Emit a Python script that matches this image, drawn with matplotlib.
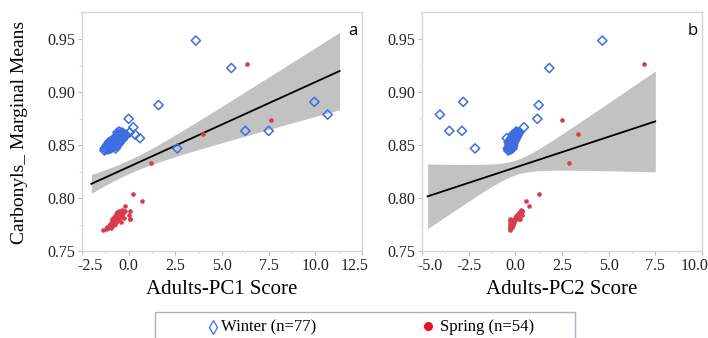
import numpy as np
import matplotlib.pyplot as plt
from matplotlib.lines import Line2D
from matplotlib.patches import Rectangle
from matplotlib.ticker import MultipleLocator
from matplotlib.transforms import ScaledTranslation

# -------------------------------
# Data
# -------------------------------
# Winter: carbonyl marginal means with their PC1 / PC2 scores
winter_y = [0.949, 0.923, 0.891, 0.888, 0.879, 0.875, 0.8636, 0.8636, 0.847, 0.867, 0.862, 0.860, 0.8567,
            0.845, 0.846, 0.846, 0.847, 0.847, 0.847, 0.848, 0.848, 0.848, 0.849, 0.849, 0.849,
            0.850, 0.850, 0.850, 0.850, 0.851, 0.851, 0.851, 0.851, 0.852, 0.852, 0.852, 0.852,
            0.853, 0.853, 0.853, 0.853, 0.854, 0.854, 0.854, 0.854, 0.855, 0.855, 0.855, 0.855,
            0.856, 0.856, 0.856, 0.856, 0.857, 0.857, 0.857, 0.857, 0.858, 0.858, 0.858, 0.858,
            0.859, 0.859, 0.859, 0.859, 0.860, 0.860, 0.860, 0.861, 0.861, 0.862, 0.862, 0.863,
            0.856, 0.853, 0.849, 0.847]
winter_pc1 = [3.6, 5.5, 9.95, 1.6, 10.66, 0.0, 6.25, 7.5, 2.6, 0.25, 0.05, 0.35, 0.6,
              -1.30, -1.22, -1.10, -1.28, -1.05, -0.95, -1.15, -1.00, -0.88, -1.20, -0.98, -0.80,
              -1.08, -0.92, -0.75, -0.60, -1.12, -0.85, -0.70, -0.95, -1.00, -0.78, -0.62, -0.50,
              -0.90, -0.72, -0.58, -0.82, -0.95, -0.66, -0.48, -0.75, -0.85, -0.60, -0.42, -0.70,
              -0.78, -0.55, -0.38, -0.65, -0.72, -0.50, -0.30, -0.60, -0.68, -0.45, -0.25, -0.55,
              -0.62, -0.40, -0.20, -0.50, -0.55, -0.35, -0.15, -0.45, -0.28, -0.60, -0.35, -0.50,
              -0.30, -1.05, -0.65, -0.70]
winter_pc2 = [4.66, 1.82, -2.79, 1.25, -4.04, 1.18, -3.54, -2.86, -2.16, 0.46, 0.21, -0.14, -0.46,
              -0.38, -0.30, -0.25, -0.40, -0.33, -0.22, -0.28, -0.35, -0.20, -0.32, -0.26, -0.18,
              -0.30, -0.22, -0.15, -0.24, -0.27, -0.20, -0.12, -0.31, -0.25, -0.18, -0.10, -0.21,
              -0.22, -0.14, -0.08, -0.27, -0.19, -0.12, -0.05, -0.23, -0.16, -0.09, -0.02, -0.20,
              -0.13, -0.06, 0.01, -0.17, -0.10, -0.03, 0.04, -0.14, -0.08, 0.00, 0.07, -0.12,
              -0.05, 0.03, 0.10, -0.09, -0.02, 0.06, 0.12, 0.00, 0.09, 0.02, 0.14, 0.05,
              -0.25, -0.36, -0.12, -0.15]

# Spring
spring_y = [0.927, 0.874, 0.8605, 0.833, 0.8037, 0.7976, 0.793, 0.770, 0.788, 0.780,
            0.771, 0.772, 0.772, 0.773, 0.773, 0.774, 0.774, 0.775, 0.775, 0.776, 0.776, 0.776,
            0.777, 0.777, 0.778, 0.778, 0.778, 0.779, 0.779, 0.780, 0.780, 0.780, 0.781, 0.781,
            0.782, 0.782, 0.782, 0.783, 0.783, 0.784, 0.784, 0.785, 0.785, 0.786, 0.786,
            0.787, 0.787, 0.788, 0.788, 0.789, 0.784, 0.780, 0.777, 0.781]
spring_pc1 = [6.35, 7.6, 4.0, 1.2, 0.25, 0.7, -0.2, -1.4, 0.07, 0.07,
              -1.20, -1.10, -0.95, -1.15, -1.00, -1.05, -0.88, -0.98, -0.80, -0.92, -0.75, -1.02,
              -0.85, -0.70, -0.90, -0.78, -0.60, -0.82, -0.65, -0.75, -0.55, -0.88, -0.70, -0.50,
              -0.80, -0.62, -0.40, -0.70, -0.52, -0.60, -0.35, -0.68, -0.45, -0.55, -0.30,
              -0.42, -0.62, -0.20, -0.50, -0.35, 0.00, 0.05, -0.40, -0.25]
spring_pc2 = [6.89, 2.5, 3.36, 2.875, 1.25, 0.57, 0.75, -0.3, 0.35, 0.2,
              -0.28, -0.30, -0.22, -0.25, -0.20, -0.27, -0.18, -0.15, -0.24, -0.12, -0.20, -0.30,
              -0.10, -0.16, -0.28, -0.06, -0.12, -0.03, -0.08, 0.00, -0.05, -0.30, 0.03, -0.02,
              0.05, 0.08, 0.02, 0.10, 0.06, 0.14, 0.10, 0.18, 0.15, 0.22, 0.20,
              0.26, 0.30, 0.33, 0.38, 0.30, 0.35, 0.25, -0.05, 0.12]

# extent of the fitted line in each panel
fit_span_pc1 = [-2.0, 11.3]
fit_span_pc2 = [-4.7, 7.5]

xticks_pc1 = [-2.5, 0.0, 2.5, 5.0, 7.5, 10.0, 12.5]
xticks_pc2 = [-5.0, -2.5, 0.0, 2.5, 5.0, 7.5, 10.0]
yticks = [0.75, 0.80, 0.85, 0.90, 0.95]

T_CRIT = 1.9785  # t(0.975, df=129)

BLUE = "#3c6ee0"
RED = "#d93a4e"
plt.rcParams['font.family'] = ['Liberation Serif', 'DejaVu Serif']

fig = plt.figure(figsize=(7.08, 3.38), dpi=100)
W, H = 708, 338


def px_axes(left, top, right, bottom):
    return fig.add_axes([left / W, 1 - bottom / H, (right - left) / W, (bottom - top) / H])


def draw_panel(ax, xw, xs, span, xticks, letter):
    x_all = np.array(xw + xs)
    y_all = np.array(winter_y + spring_y)
    n = len(x_all)
    slope, intercept = np.polyfit(x_all, y_all, 1)
    resid = y_all - (slope * x_all + intercept)
    s = np.sqrt(np.sum(resid ** 2) / (n - 2))
    xbar = x_all.mean()
    sxx = np.sum((x_all - xbar) ** 2)
    xf = np.linspace(span[0], span[1], 200)
    yf = slope * xf + intercept
    half = T_CRIT * s * np.sqrt(1 / n + (xf - xbar) ** 2 / sxx)

    ax.fill_between(xf, yf - half, yf + half, color="#c2c2c2", lw=0, zorder=1)
    ax.plot(xf, yf, color="black", lw=1.3, zorder=2)
    ax.scatter(xw, winter_y, marker="D", s=22, facecolors="none", edgecolors=BLUE, linewidths=1.1, zorder=3)
    ax.scatter(xs, spring_y, marker="o", s=11, color=RED, lw=0, zorder=4)

    ax.set_xlim(xticks[0], xticks[-1])
    ax.set_ylim(0.75, 0.976)
    ax.set_xticks(xticks)
    ax.set_xticklabels([f"{v:.1f}" for v in xticks])
    ax.set_yticks(yticks)
    ax.set_yticklabels([f"{v:.2f}" for v in yticks])
    ax.yaxis.set_minor_locator(MultipleLocator(0.025))
    ax.xaxis.set_minor_locator(MultipleLocator(1.25))
    for sp in ax.spines.values():
        sp.set_color("#d4d4d4")
        sp.set_linewidth(1.0)
    ax.tick_params(which="major", length=3, color="#bbbbbb", labelsize=11.5, pad=2, labelcolor="#222222")
    ax.tick_params(which="minor", length=2, color="#dddddd")

    # end labels sit inside the frame, as in the original
    ticks = ax.xaxis.get_major_ticks()
    lab0 = ticks[0].label1
    lab0.set_transform(lab0.get_transform() + ScaledTranslation(8 / 100, 0, fig.dpi_scale_trans))
    lab1 = ticks[-1].label1
    lab1.set_transform(lab1.get_transform() + ScaledTranslation(-7 / 100, 0, fig.dpi_scale_trans))

    ax.text(0.985, 0.955, letter, transform=ax.transAxes, ha="right", va="top",
            fontsize=12, family="Open Sans", color="black")


ax1 = px_axes(82, 12, 362, 251)
draw_panel(ax1, winter_pc1, spring_pc1, fit_span_pc1, xticks_pc1, "a")
ax2 = px_axes(422, 12, 702, 251)
draw_panel(ax2, winter_pc2, spring_pc2, fit_span_pc2, xticks_pc2, "b")

fig.text(20 / W, 1 - 132 / H, "Carbonyls_ Marginal Means", rotation=90, ha="center", va="center", fontsize=14)
fig.text(222 / W, 1 - 290 / H, "Adults-PC1 Score", ha="center", va="center", fontsize=15)
fig.text(562 / W, 1 - 290 / H, "Adults-PC2 Score", ha="center", va="center", fontsize=15)

# legend box (cut off at the bottom edge)
fig.add_artist(Rectangle((155 / W, -0.05), (575 - 155) / W, 0.05 + (338 - 312) / H,
                         transform=fig.transFigure, fill=False, edgecolor="#a7b0cc", lw=1.0))
fig.add_artist(Line2D([213 / W], [1 - 327 / H], marker="d", markersize=7.5, markerfacecolor="none",
                      markeredgecolor=BLUE, markeredgewidth=0.9, transform=fig.transFigure))
fig.text(221 / W, 1 - 327 / H, "Winter (n=77)", ha="left", va="center", fontsize=12)
fig.add_artist(Line2D([428 / W], [1 - 326 / H], marker="o", markersize=5.5, color="#e8101c",
                      lw=0, transform=fig.transFigure))
fig.text(440 / W, 1 - 327 / H, "Spring (n=54)", ha="left", va="center", fontsize=12)

fig.savefig("out.png", dpi=100)
